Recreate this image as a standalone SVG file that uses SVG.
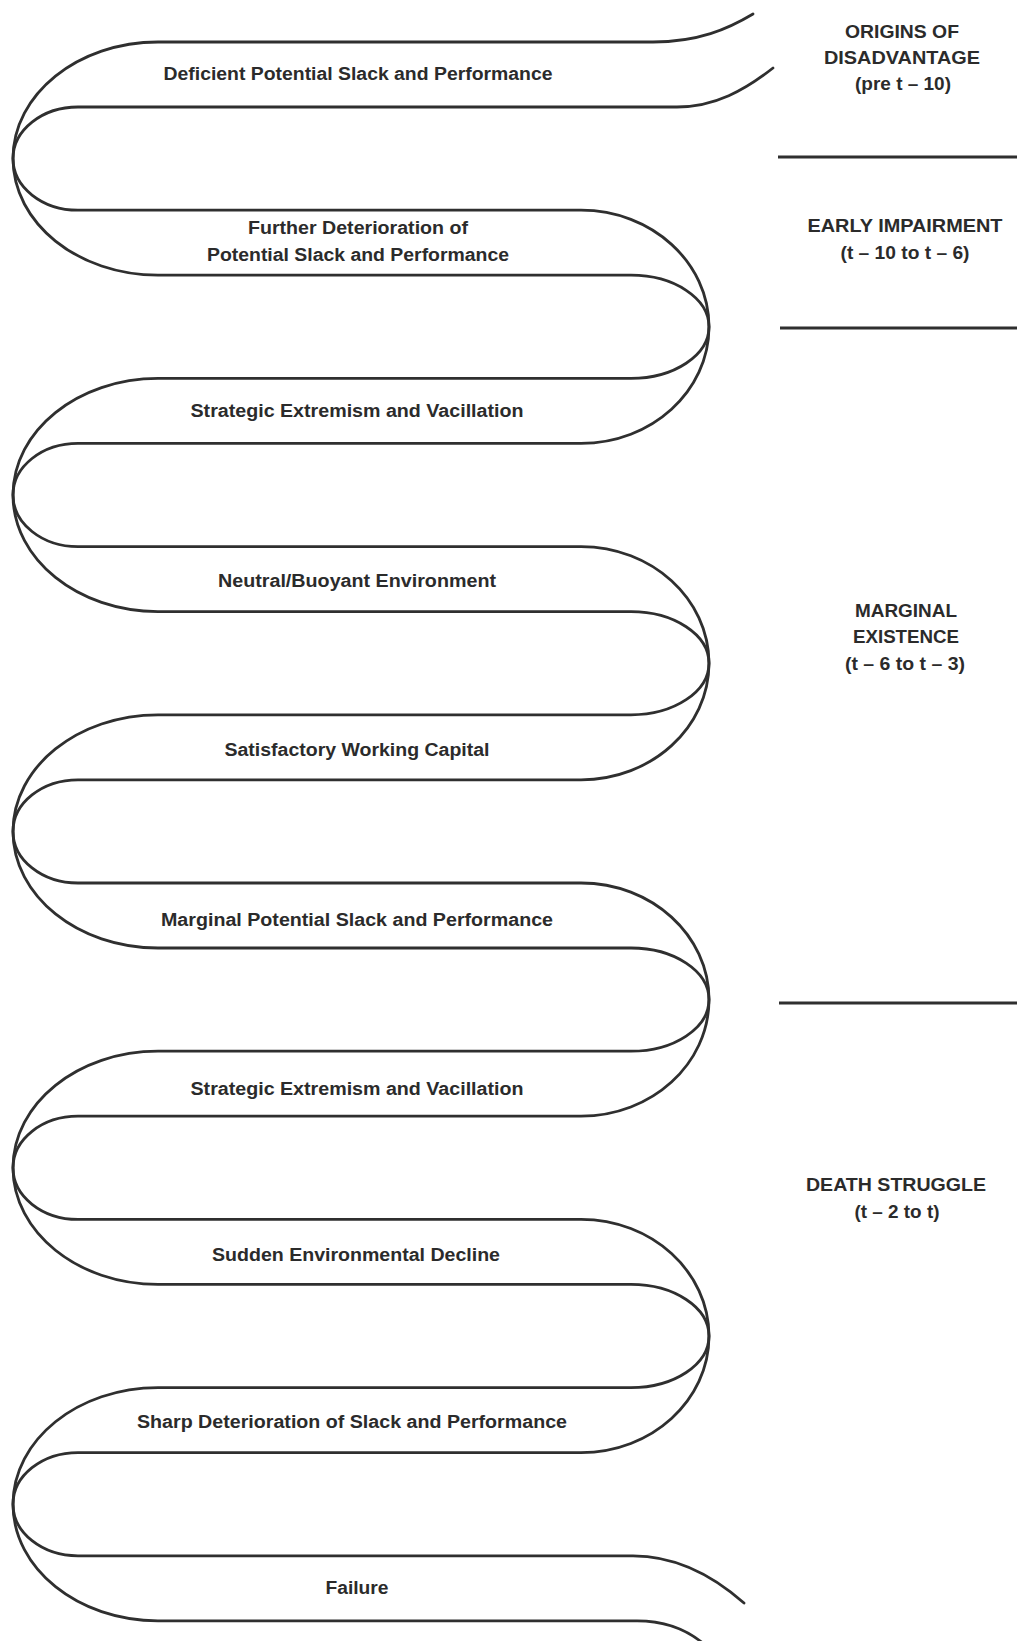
<svg xmlns="http://www.w3.org/2000/svg" width="1017" height="1641" viewBox="0 0 1017 1641">
<style>
.rib{fill:none;stroke:#2f2f2f;stroke-width:2.8;stroke-linecap:round;stroke-linejoin:round}
.div{fill:none;stroke:#2f2f2f;stroke-width:3}
.lbl{font-family:"Liberation Sans",Arial,sans-serif;font-weight:bold;font-size:18px;fill:#2b2b2b;text-anchor:middle}
.ph{font-family:"Liberation Sans",Arial,sans-serif;font-weight:bold;font-size:19px;fill:#2b2b2b;text-anchor:middle}
</style>
<rect width="1017" height="1641" fill="#ffffff"/>
<g id="connectors">
<path id="edge-a" class="rib" d="M 753 14 C 728 29 698 42 653 42 L 158 42 C 77.9 42 13 94.2 13 158.6 C 13 223 77.9 275.2 158 275.2 L 631 275.2 C 674.1 275.2 709 298.3 709 326.8 C 709 355.3 674.1 378.4 631 378.4 L 158 378.4 C 77.9 378.4 13 430.6 13 495 C 13 559.4 77.9 611.6 158 611.6 L 631 611.6 C 674.1 611.6 709 634.7 709 663.2 C 709 691.7 674.1 714.8 631 714.8 L 158 714.8 C 77.9 714.8 13 767 13 831.4 C 13 895.8 77.9 948 158 948 L 631 948 C 674.1 948 709 971.1 709 999.6 C 709 1028.1 674.1 1051.2 631 1051.2 L 158 1051.2 C 77.9 1051.2 13 1103.4 13 1167.8 C 13 1232.2 77.9 1284.4 158 1284.4 L 631 1284.4 C 674.1 1284.4 709 1307.5 709 1336 C 709 1364.5 674.1 1387.6 631 1387.6 L 158 1387.6 C 77.9 1387.6 13 1439.8 13 1504.2 C 13 1568.6 77.9 1620.8 158 1620.8 L 637 1620.8 C 665 1620.8 688 1630 705 1645"/>
<path id="edge-b" class="rib" d="M 773 68 C 745 90 715 107 677 107 L 78 107 C 42.1 107 13 130.1 13 158.6 C 13 187.1 42.1 210.2 78 210.2 L 581 210.2 C 651.7 210.2 709 262.4 709 326.8 C 709 391.2 651.7 443.4 581 443.4 L 78 443.4 C 42.1 443.4 13 466.5 13 495 C 13 523.5 42.1 546.6 78 546.6 L 581 546.6 C 651.7 546.6 709 598.8 709 663.2 C 709 727.6 651.7 779.8 581 779.8 L 78 779.8 C 42.1 779.8 13 802.9 13 831.4 C 13 859.9 42.1 883 78 883 L 581 883 C 651.7 883 709 935.2 709 999.6 C 709 1064 651.7 1116.2 581 1116.2 L 78 1116.2 C 42.1 1116.2 13 1139.3 13 1167.8 C 13 1196.3 42.1 1219.4 78 1219.4 L 581 1219.4 C 651.7 1219.4 709 1271.6 709 1336 C 709 1400.4 651.7 1452.6 581 1452.6 L 78 1452.6 C 42.1 1452.6 13 1475.7 13 1504.2 C 13 1532.7 42.1 1555.8 78 1555.8 L 633 1555.8 C 680 1555.8 718 1580 744 1603"/>
</g>
<g id="dividers">
<line class="div" x1="778" y1="157" x2="1017" y2="157"/>
<line class="div" x1="780" y1="328" x2="1017" y2="328"/>
<line class="div" x1="779" y1="1003" x2="1017" y2="1003"/>
</g>
<g id="node-1"><text class="lbl" x="358" y="80" textLength="389" lengthAdjust="spacingAndGlyphs">Deficient Potential Slack and Performance</text></g>
<g id="node-2"><text class="lbl" x="358" y="234" textLength="220" lengthAdjust="spacingAndGlyphs">Further Deterioration of</text><text class="lbl" x="358" y="261" textLength="302" lengthAdjust="spacingAndGlyphs">Potential Slack and Performance</text></g>
<g id="node-3"><text class="lbl" x="357" y="417" textLength="333" lengthAdjust="spacingAndGlyphs">Strategic Extremism and Vacillation</text></g>
<g id="node-4"><text class="lbl" x="357" y="587" textLength="278" lengthAdjust="spacingAndGlyphs">Neutral/Buoyant Environment</text></g>
<g id="node-5"><text class="lbl" x="357" y="756" textLength="265" lengthAdjust="spacingAndGlyphs">Satisfactory Working Capital</text></g>
<g id="node-6"><text class="lbl" x="357" y="926" textLength="392" lengthAdjust="spacingAndGlyphs">Marginal Potential Slack and Performance</text></g>
<g id="node-7"><text class="lbl" x="357" y="1095" textLength="333" lengthAdjust="spacingAndGlyphs">Strategic Extremism and Vacillation</text></g>
<g id="node-8"><text class="lbl" x="356" y="1261" textLength="288" lengthAdjust="spacingAndGlyphs">Sudden Environmental Decline</text></g>
<g id="node-9"><text class="lbl" x="352" y="1428" textLength="430" lengthAdjust="spacingAndGlyphs">Sharp Deterioration of Slack and Performance</text></g>
<g id="node-10"><text class="lbl" x="357" y="1594" textLength="63" lengthAdjust="spacingAndGlyphs">Failure</text></g>
<g id="phase-origins"><text class="ph" x="902" y="38" textLength="114" lengthAdjust="spacingAndGlyphs">ORIGINS OF</text><text class="ph" x="902" y="64" textLength="156" lengthAdjust="spacingAndGlyphs">DISADVANTAGE</text><text class="ph" x="903" y="90" textLength="96" lengthAdjust="spacingAndGlyphs">(pre t – 10)</text></g>
<g id="phase-early"><text class="ph" x="905" y="232" textLength="195" lengthAdjust="spacingAndGlyphs">EARLY IMPAIRMENT</text><text class="ph" x="905" y="259" textLength="129" lengthAdjust="spacingAndGlyphs">(t – 10 to t – 6)</text></g>
<g id="phase-marginal"><text class="ph" x="906" y="617" textLength="102" lengthAdjust="spacingAndGlyphs">MARGINAL</text><text class="ph" x="906" y="643" textLength="106" lengthAdjust="spacingAndGlyphs">EXISTENCE</text><text class="ph" x="905" y="670" textLength="120" lengthAdjust="spacingAndGlyphs">(t – 6 to t – 3)</text></g>
<g id="phase-death"><text class="ph" x="896" y="1191" textLength="180" lengthAdjust="spacingAndGlyphs">DEATH STRUGGLE</text><text class="ph" x="897" y="1218" textLength="85" lengthAdjust="spacingAndGlyphs">(t – 2 to t)</text></g>
</svg>
